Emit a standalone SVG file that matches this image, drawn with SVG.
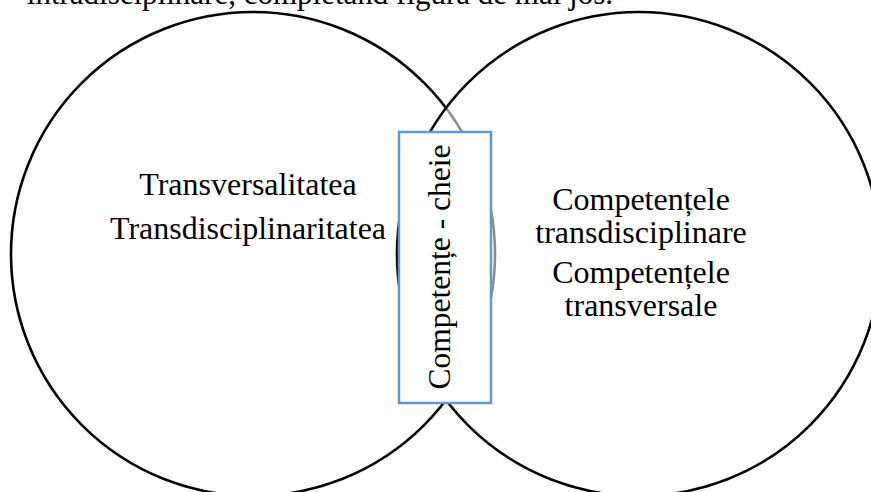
<svg xmlns="http://www.w3.org/2000/svg" width="871" height="492" viewBox="0 0 871 492">
<style>
text{font-family:"Liberation Serif","Times New Roman",serif;font-size:32px;fill:#000}
.c{text-anchor:middle}
.circ{stroke:#000;stroke-width:2.6}
</style>
<rect width="871" height="492" fill="#fff"/>
<text x="613" y="4" style="text-anchor:end;font-size:31px">intradisciplinare, completând figura de mai jos.</text>
<g id="circle-left">
<circle class="circ" cx="253" cy="254" r="242" fill="#fff"/>
</g>
<g id="circle-right">
<circle class="circ" cx="639" cy="254" r="242" fill="#fff" fill-opacity="0.55"/>
</g>
<g id="text-left">
<text class="c" x="248" y="195">Transversalitatea</text>
<text class="c" x="248" y="239">Transdisciplinaritatea</text>
</g>
<g id="text-right">
<text class="c" x="641" y="210">Competențele</text>
<text class="c" x="641" y="243">transdisciplinare</text>
<text class="c" x="641" y="283">Competențele</text>
<text class="c" x="641" y="316">transversale</text>
</g>
<g id="connectors"></g>
<g id="box-key">
<rect x="399" y="132" width="92" height="271" fill="#fff" stroke="#5B9BD5" stroke-width="2.5"/>
<text class="c" transform="translate(450 267) rotate(-90)" x="0" y="0" style="font-size:31.5px">Competențe - cheie</text>
</g>
</svg>
